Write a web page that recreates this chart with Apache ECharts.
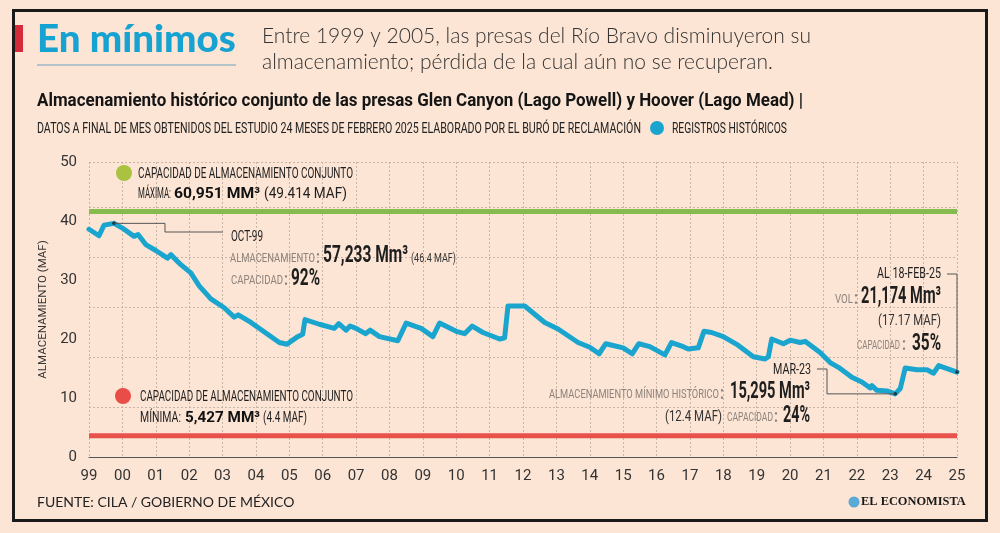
<!DOCTYPE html>
<html><head><meta charset="utf-8">
<script src="https://cdn.jsdelivr.net/npm/echarts@6/dist/echarts.min.js"></script>
<style>html,body{margin:0;padding:0;background:#fce5d5}#c{width:1000px;height:533px}</style>
</head><body><div id="c"></div>
<script>
// ---- DATA ----
const dates = [1999.0,1999.3,1999.45,1999.75,2000.0,2000.35,2000.47,2000.7,2001.0,2001.35,2001.45,2001.75,2002.05,2002.3,2002.65,
2003.05,2003.35,2003.47,2003.85,2004.35,2004.7,2004.93,2005.25,2005.4,2005.47,2005.9,2006.35,2006.48,2006.7,2006.82,2007.0,
2007.28,2007.42,2007.7,2008.25,2008.5,2008.95,2009.3,2009.5,2010.0,2010.25,2010.48,2010.8,2011.3,2011.45,2011.55,2012.05,
2012.65,2013.05,2013.65,2014.0,2014.28,2014.48,2014.7,2015.0,2015.27,2015.47,2015.8,2016.25,2016.45,2016.8,2016.95,2017.25,
2017.42,2017.65,2018.0,2018.4,2018.9,2019.25,2019.35,2019.45,2019.8,2020.0,2020.3,2020.45,2020.9,2021.2,2021.45,2021.85,
2022.15,2022.4,2022.45,2022.6,2022.9,2023.15,2023.3,2023.45,2023.8,2024.1,2024.3,2024.45,2025.0];
const storage = [38.6,37.5,39.3,39.6,38.8,37.4,37.7,36.0,35.0,33.7,34.3,32.6,31.2,29.0,26.8,
25.3,23.7,24.1,22.8,20.8,19.4,19.1,20.4,20.8,23.3,22.5,21.8,22.6,21.5,22.2,21.8,
20.9,21.5,20.4,19.7,22.7,21.8,20.4,22.7,21.3,20.9,22.2,21.1,20.0,20.2,25.6,25.6,
22.8,21.7,19.4,18.6,17.5,19.2,18.9,18.5,17.5,19.2,18.7,17.3,19.4,18.7,18.3,18.5,
21.3,21.1,20.4,19.1,17.0,16.6,17.0,20.0,19.2,19.8,19.4,19.6,17.7,16.0,15.2,13.5,
12.7,11.7,12.1,11.3,11.2,10.7,11.6,15.1,14.8,14.8,14.2,15.5,14.4];
const highlightDates = [1999.75, 2023.15, 2025.0];   // OCT-99, MAR-23, 18-FEB-25
const capacityMax = 41.6;
const capacityMin = 3.6;
const xRange = [1999, 2025];
const yRange = [0, 50];

// ---- STYLE ----
const NF = 'Roboto';
const GEO = 'Lato,"Open Sans",sans-serif';
const BG = '#fce5d5';
const BLUE = '#1aa5cf';
const GRAY = '#8d827b';
const INK = '#1e1e1e';

const ctx = document.createElement('canvas').getContext('2d');
function fit(text, weight, family, target) {
  ctx.font = weight + ' 100px ' + family;
  return 100 * target / ctx.measureText(text).width;
}
// condensed text segment: drawn with Roboto, squeezed horizontally to span x0..x1
function seg(text, x0, x1, y, size, weight, fill) {
  const font = weight + ' ' + size + 'px ' + NF;
  ctx.font = font;
  const w = ctx.measureText(text).width;
  return { type: 'text', z: 100, x: x0, y: y, scaleX: (x1 - x0) / w,
    style: { text, x: 0, y: 0, font, fill: fill || INK, align: 'left', verticalAlign: 'middle' } };
}

const chart = echarts.init(document.getElementById('c'));
const lineData = dates.map((d, i) => [d, storage[i]]);
const hiData = highlightDates.map(d => [d, storage[dates.indexOf(d)]]);

chart.setOption({
  backgroundColor: BG,
  animation: false,
  grid: { left: 89, right: 43, top: 162, bottom: 76, outerBoundsMode: 'none' },
  xAxis: {
    type: 'value', min: xRange[0], max: xRange[1], interval: 1,
    axisLine: { lineStyle: { color: '#555', width: 1 } },
    axisTick: { show: false },
    axisLabel: { formatter: v => String(v % 100).padStart(2, '0'), color: '#333', fontFamily: NF, fontSize: 15, margin: 12 },
    splitLine: { show: true, lineStyle: { type: [2, 2], color: '#bba999', width: 0.8 } }
  },
  yAxis: [{
    type: 'value', min: yRange[0], max: yRange[1], interval: 10,
    name: 'ALMACENAMIENTO (MAF)', nameLocation: 'middle', nameGap: 40,
    nameTextStyle: { color: '#333', fontFamily: NF, fontSize: 11.5 },
    axisLabel: { color: '#333', fontFamily: NF, fontSize: 15, margin: 12 },
    axisLine: { show: false }, axisTick: { show: false }, splitLine: { show: false }
  }, {
    type: 'value', min: 0, max: 5.9, interval: 1, position: 'right',
    axisLabel: { show: false }, axisLine: { show: false }, axisTick: { show: false },
    splitLine: { show: true, lineStyle: { type: [2, 2], color: '#bba999', width: 0.8 } }
  }],
  series: [
    { type: 'line', data: [[xRange[0], capacityMax], [xRange[1], capacityMax]], symbol: 'none', silent: true,
      lineStyle: { color: '#86bb4f', width: 5 }, z: 2 },
    { type: 'line', data: [[xRange[0], capacityMin], [xRange[1], capacityMin]], symbol: 'none', silent: true,
      lineStyle: { color: '#e8524b', width: 5 }, z: 2 },
    { type: 'line', data: lineData, symbol: 'none', lineStyle: { color: BLUE, width: 5, join: 'round', cap: 'round' }, z: 3 },
    { type: 'scatter', data: hiData, symbolSize: 3.5, itemStyle: { color: '#111' }, z: 5 }
  ]
});

const P = hiData.map(p => chart.convertToPixel({ gridIndex: 0 }, p));

const t1 = 'En mínimos';
const s1 = 'Entre 1999 y 2005, las presas del Río Bravo disminuyeron su';
const s2 = 'almacenamiento; pérdida de la cual aún no se recuperan.';
const src = 'FUENTE: CILA / GOBIERNO DE MÉXICO';
const fT1 = fit(t1, 900, GEO, 199);
const fS = fit(s1, 300, GEO, 550);
const fSrc = fit(src, 'normal', GEO, 258);
const fLogo = fit('EL ECONOMISTA', 'bold', '"Liberation Serif",serif', 105);

function txt(text, x, y, font, fill) {
  return { type: 'text', z: 100, style: { text, x, y, font, fill: fill || INK, align: 'left', verticalAlign: 'middle' } };
}
const lead = { stroke: '#555', lineWidth: 1, fill: null };

const graphics = [
  { type: 'rect', z: 90, shape: { x: 13.5, y: 10.5, width: 973, height: 510 }, style: { fill: null, stroke: '#1a1a1a', lineWidth: 3 } },
  { type: 'rect', z: 91, shape: { x: 15, y: 25, width: 8, height: 27 }, style: { fill: '#d42a3a' } },
  txt(t1, 37, 40, '900 ' + fT1.toFixed(1) + 'px ' + GEO, '#16a3d1'),
  { type: 'line', z: 91, shape: { x1: 37, y1: 65, x2: 236, y2: 65 }, style: { stroke: '#9ab9c4', lineWidth: 1.5 } },
  txt(s1, 262, 36, '300 ' + fS.toFixed(1) + 'px ' + GEO, '#333'),
  txt(s2, 262, 62, '300 ' + fS.toFixed(1) + 'px ' + GEO, '#333'),
  seg('Almacenamiento histórico conjunto de las presas Glen Canyon (Lago Powell) y Hoover (Lago Mead) |', 37, 803, 101, 18, 'bold', '#151515'),
  seg('DATOS A FINAL DE MES OBTENIDOS DEL ESTUDIO 24 MESES DE FEBRERO 2025 ELABORADO POR EL BURÓ DE RECLAMACIÓN', 37, 641, 129, 15, 'normal', '#222'),
  { type: 'circle', z: 100, shape: { cx: 657, cy: 128, r: 7 }, style: { fill: BLUE } },
  seg('REGISTROS HISTÓRICOS', 672, 787, 129, 15, 'normal', '#222'),
  // legend max
  { type: 'circle', z: 100, shape: { cx: 124, cy: 173, r: 8 }, style: { fill: '#a9c23f' } },
  seg('CAPACIDAD DE ALMACENAMIENTO CONJUNTO', 138, 353, 174, 15, 'normal'),
  seg('MÁXIMA:', 138, 171, 194, 15, 'normal'),
  seg('60,951 MM³', 174, 260, 194, 15, 'bold', '#111'),
  seg('(49.414 MAF)', 264, 347, 194, 14, 'normal'),
  // legend min
  { type: 'circle', z: 100, shape: { cx: 123, cy: 396, r: 8 }, style: { fill: '#ea4d48' } },
  seg('CAPACIDAD DE ALMACENAMIENTO CONJUNTO', 140, 353, 397, 15, 'normal'),
  seg('MÍNIMA:', 140, 181, 418, 15, 'normal'),
  seg('5,427 MM³', 185, 260, 418, 15, 'bold', '#111'),
  seg('(4.4 MAF)', 263, 307, 418, 14, 'normal'),
  // OCT-99
  { type: 'polyline', z: 95, shape: { points: [P[0], [165, P[0][1]], [165, 232], [223, 232]] }, style: lead },
  seg('OCT-99', 231, 263, 237, 15, 'normal'),
  seg('ALMACENAMIENTO', 230, 315, 259, 12.5, 'normal', GRAY),
  seg(':', 316, 320, 258, 18, 'bold', GRAY),
  seg('57,233 Mm³', 323, 408, 256, 24, 'bold'),
  seg('(46.4 MAF)', 411, 456, 259, 13, 'normal', '#333'),
  seg('CAPACIDAD', 231, 283, 281, 12.5, 'normal', GRAY),
  seg(':', 284, 288, 280, 18, 'bold', GRAY),
  seg('92%', 291, 320, 279, 23, 'bold'),
  // MAR-23
  { type: 'polyline', z: 95, shape: { points: [P[1], [827, P[1][1]], [827, 369], [817, 369]] }, style: lead },
  seg('MAR-23', 773, 811, 370, 15, 'normal'),
  seg('ALMACENAMIENTO MÍNIMO HISTÓRICO', 549, 719, 395, 12.5, 'normal', GRAY),
  seg(':', 720, 724, 394, 18, 'bold', GRAY),
  seg('15,295 Mm³', 730, 810, 392, 24, 'bold'),
  seg('(12.4 MAF)', 665, 722, 417, 15, 'normal', '#333'),
  seg('CAPACIDAD', 727, 773, 418, 12.5, 'normal', GRAY),
  seg(':', 774, 778, 417, 18, 'bold', GRAY),
  seg('24%', 783, 810, 416, 23, 'bold'),
  // FEB-25
  { type: 'polyline', z: 95, shape: { points: [P[2], [P[2][0], 274], [947, 274]] }, style: lead },
  seg('AL 18-FEB-25', 877, 941, 274, 15, 'normal'),
  seg('VOL', 835, 853, 300, 12.5, 'normal', GRAY),
  seg(':', 854, 858, 299, 18, 'bold', GRAY),
  seg('21,174 Mm³', 861, 941, 297, 24, 'bold'),
  seg('(17.17 MAF)', 878, 941, 321, 15, 'normal', '#333'),
  seg('CAPACIDAD', 857, 900, 346, 12.5, 'normal', GRAY),
  seg(':', 902, 906, 345, 18, 'bold', GRAY),
  seg('35%', 912, 941, 344, 23, 'bold'),
  // footer
  txt(src, 37, 502, fSrc.toFixed(1) + 'px ' + GEO, '#222'),
  { type: 'circle', z: 100, shape: { cx: 854, cy: 502, r: 5.5 }, style: { fill: '#5aa9d6' } },
  txt('EL ECONOMISTA', 861, 502, 'bold ' + fLogo.toFixed(1) + 'px "Liberation Serif",serif', '#1a1a1a')
];
chart.setOption({ graphic: graphics });
</script></body></html>
